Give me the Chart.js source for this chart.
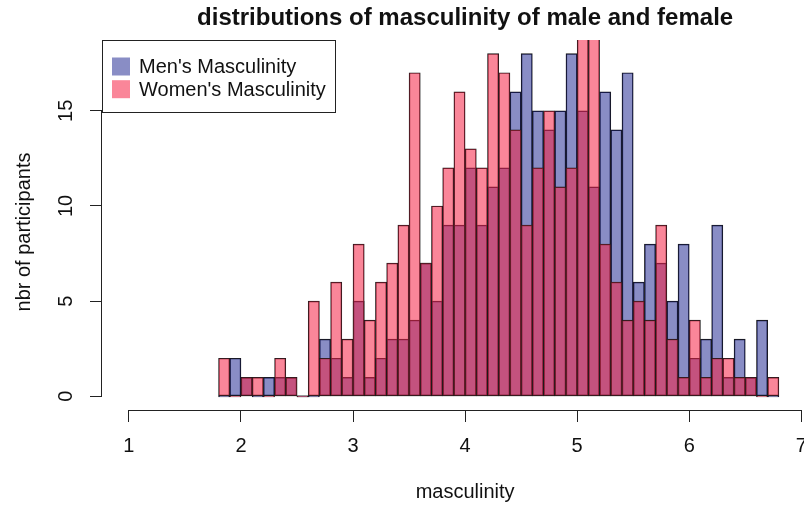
<!DOCTYPE html>
<html>
<head>
<meta charset="utf-8">
<script src="https://cdn.jsdelivr.net/npm/chart.js@4.4.1/dist/chart.umd.min.js"></script>
<style>
  html, body { margin: 0; padding: 0; background: #ffffff; overflow: hidden; }
  #wrap { width: 804px; height: 508px; position: relative; }
</style>
</head>
<body>
<div id="wrap"><canvas id="hist" width="804" height="508"></canvas></div>
<script>
// Histogram bins: 0.1 wide, from 1.8 to 6.8 (bin midpoints)
const binMids = [
  1.85, 1.95, 2.05, 2.15, 2.25, 2.35, 2.45, 2.55, 2.65, 2.75,
  2.85, 2.95, 3.05, 3.15, 3.25, 3.35, 3.45, 3.55, 3.65, 3.75,
  3.85, 3.95, 4.05, 4.15, 4.25, 4.35, 4.45, 4.55, 4.65, 4.75,
  4.85, 4.95, 5.05, 5.15, 5.25, 5.35, 5.45, 5.55, 5.65, 5.75,
  5.85, 5.95, 6.05, 6.15, 6.25, 6.35, 6.45, 6.55, 6.65, 6.75
];

// Counts of participants per bin
const menCounts = [
  0, 2, 1, 0, 1, 1, 1, 0, 0, 3,
  2, 1, 5, 1, 2, 3, 3, 4, 7, 5,
  9, 9, 12, 9, 11, 12, 16, 18, 15, 14,
  15, 18, 15, 11, 16, 14, 17, 6, 8, 7,
  5, 8, 2, 3, 9, 1, 3, 1, 4, 0
];
const womenCounts = [
  2, 0, 1, 1, 0, 2, 1, 0, 5, 2,
  6, 3, 8, 4, 6, 7, 9, 17, 7, 10,
  12, 16, 13, 12, 18, 17, 14, 9, 12, 15,
  11, 12, 19, 19, 8, 6, 4, 5, 4, 9,
  3, 1, 4, 1, 2, 2, 1, 1, 0, 1
];

const seriesLabels = ["Men's Masculinity", "Women's Masculinity"];
const xTicks = [1, 2, 3, 4, 5, 6, 7];
const yTicks = [0, 5, 10, 15];
const chartTitle = 'distributions of masculinity of male and female';
const xTitle = 'masculinity';
const yTitle = 'nbr of participants';

const menFill = 'rgba(20, 27, 140, 0.5)';
const womenFill = 'rgba(245, 35, 70, 0.55)';
const FONT = '"Liberation Sans", Arial, Helvetica, sans-serif';

// Axis lines, tick labels, titles and legend in base-graphics style
const basePlot = {
  id: 'basePlot',
  afterDraw(chart) {
    const ctx = chart.ctx;
    const xs = chart.scales.x, ys = chart.scales.y;
    const ca = chart.chartArea;
    ctx.save();
    ctx.strokeStyle = '#222';
    ctx.lineWidth = 1;

    // x axis line from first to last tick
    const yb = Math.round(ca.bottom) + 0.5;
    ctx.beginPath();
    ctx.moveTo(xs.getPixelForValue(xTicks[0]), yb);
    ctx.lineTo(xs.getPixelForValue(xTicks[xTicks.length - 1]), yb);
    ctx.stroke();

    // y axis line from first to last tick
    const xl = Math.round(ca.left) - 0.5;
    ctx.beginPath();
    ctx.moveTo(xl, ys.getPixelForValue(yTicks[0]));
    ctx.lineTo(xl, ys.getPixelForValue(yTicks[yTicks.length - 1]));
    ctx.stroke();

    ctx.fillStyle = '#111';
    ctx.font = '20px ' + FONT;
    ctx.textAlign = 'center';
    ctx.textBaseline = 'middle';

    // x tick labels
    xTicks.forEach(v => ctx.fillText(String(v), xs.getPixelForValue(v), 446));

    // y tick labels, parallel to the axis
    yTicks.forEach(v => {
      ctx.save();
      ctx.translate(66, ys.getPixelForValue(v));
      ctx.rotate(-Math.PI / 2);
      ctx.fillText(String(v), 0, 0);
      ctx.restore();
    });

    // axis titles
    ctx.fillText(xTitle, xs.getPixelForValue(4), 492);
    ctx.save();
    ctx.translate(24, 232);
    ctx.rotate(-Math.PI / 2);
    ctx.fillText(yTitle, 0, 0);
    ctx.restore();

    // main title
    ctx.font = 'bold 24px ' + FONT;
    ctx.textBaseline = 'alphabetic';
    ctx.fillText(chartTitle, xs.getPixelForValue(4), 25);

    // legend box in the top-left corner of the plot
    const lx = Math.round(ca.left) + 0.5, ly = Math.round(ca.top) + 0.5;
    const lw = 233, lh = 72;
    ctx.fillStyle = '#ffffff';
    ctx.fillRect(lx, ly, lw, lh);
    ctx.strokeStyle = '#222';
    ctx.strokeRect(lx, ly, lw, lh);
    ctx.font = '20px ' + FONT;
    ctx.textAlign = 'left';
    ctx.textBaseline = 'middle';
    const rows = [66.5, 89.2];
    chart.data.datasets.forEach((ds, i) => {
      ctx.fillStyle = ds.backgroundColor;
      ctx.fillRect(112, rows[i] - 9, 18, 18);
      ctx.fillStyle = '#111';
      ctx.fillText(ds.label, 139, rows[i] + 1);
    });
    ctx.restore();
  }
};

const toPoints = counts => counts.map((c, i) => ({ x: binMids[i], y: c }));

const barStyle = {
  borderColor: '#1a1a1a',
  borderWidth: 0.8,
  borderSkipped: false,
  barPercentage: 1,
  categoryPercentage: 1,
  grouped: false,
  minBarLength: 1
};

new Chart(document.getElementById('hist'), {
  type: 'bar',
  data: {
    datasets: [
      Object.assign({ label: seriesLabels[0], data: toPoints(menCounts), backgroundColor: menFill, order: 2 }, barStyle),
      Object.assign({ label: seriesLabels[1], data: toPoints(womenCounts), backgroundColor: womenFill, order: 1 }, barStyle)
    ]
  },
  options: {
    responsive: false,
    devicePixelRatio: 1,
    animation: false,
    layout: { padding: { top: 40, right: 0, bottom: 0, left: 0 } },
    plugins: {
      legend: { display: false },
      title: { display: false },
      tooltip: { enabled: false }
    },
    scales: {
      x: {
        type: 'linear',
        min: 0.76,
        max: 7.024,
        offset: false,
        afterBuildTicks: s => { s.ticks = xTicks.map(v => ({ value: v })); },
        afterFit: s => { s.height = 98; s.paddingLeft = 0; s.paddingRight = 0; },
        ticks: { display: false },
        grid: { display: true, offset: false, drawOnChartArea: false, drawTicks: true, tickLength: 12, color: '#222', lineWidth: 1 },
        border: { display: false }
      },
      y: {
        type: 'linear',
        min: -0.72,
        max: 18.72,
        afterBuildTicks: s => { s.ticks = yTicks.map(v => ({ value: v })); },
        afterFit: s => { s.width = 102; s.paddingTop = 0; s.paddingBottom = 0; },
        ticks: { display: false },
        grid: { display: true, offset: false, drawOnChartArea: false, drawTicks: true, tickLength: 12, color: '#222', lineWidth: 1 },
        border: { display: false }
      }
    }
  },
  plugins: [basePlot]
});
</script>
</body>
</html>
